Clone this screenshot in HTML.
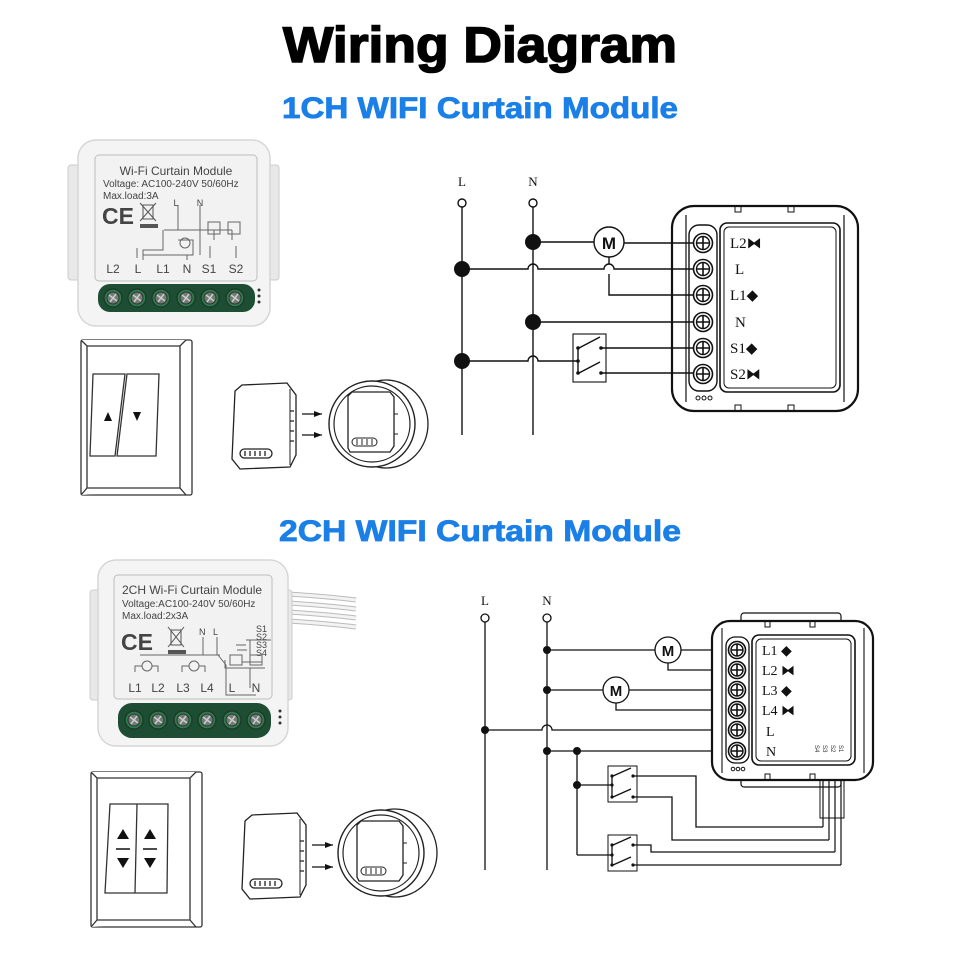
<!DOCTYPE html>
<html><head><meta charset="utf-8"><style>
html,body{margin:0;padding:0;background:#fff}
svg{display:block}
.t{font-family:"Liberation Sans",sans-serif}
.s{font-family:"Liberation Serif",serif}
</style></head><body>
<svg width="960" height="960" viewBox="0 0 960 960" xmlns="http://www.w3.org/2000/svg">
<defs>
<g id="scr"><circle r="9.5" fill="#fff" stroke="#111" stroke-width="1.6"/><circle r="6.5" fill="none" stroke="#111" stroke-width="1.4"/><path d="M-6 0H6M0-6V6" stroke="#111" stroke-width="1.6"/></g>
<g id="scr2"><circle r="8.5" fill="#fff" stroke="#111" stroke-width="1.6"/><circle r="6" fill="none" stroke="#111" stroke-width="1.4"/><path d="M-5.5 0H5.5M0-5.5V5.5" stroke="#111" stroke-width="1.6"/></g>
<g id="gscr"><circle r="9" fill="#2e7d4f" stroke="#1d3b2a" stroke-width="1.5"/><circle r="6" fill="#6f7c74" stroke="#333" stroke-width="1"/><path d="M-4 -3L4 3M-3 4L3 -4" stroke="#ccc" stroke-width="1.5"/></g>
<g id="mini"><path d="M3 6 L10 0 L55 -2 L64 10 L64 70 L58 82 L8 84 L0 74 Z" fill="#fff" stroke="#222" stroke-width="1.3"/><path d="M58 4 L58 80" stroke="#222" stroke-width="1"/><rect x="8" y="64" width="32" height="9" rx="4.5" fill="#fff" stroke="#222" stroke-width="1.3"/><path d="M13 66v5M18 66v5M23 66v5M28 66v5M33 66v5" stroke="#222" stroke-width="1.3"/><path d="M58 26h4M58 36h4M58 46h4M58 56h4" stroke="#222" stroke-width="1.3"/></g>
<g id="round"><ellipse cx="14" cy="0" rx="42" ry="44" fill="#fff" stroke="#222" stroke-width="1.3"/><circle r="43" fill="#fff" stroke="#222" stroke-width="1.4"/><circle r="38" fill="none" stroke="#222" stroke-width="1.2"/><path d="M-24 -28 L-20 -32 L18 -32 L22 -27 L22 22 L18 28 L-22 28 L-24 24 Z" fill="#fff" stroke="#222" stroke-width="1.3"/><rect x="-20" y="14" width="25" height="8" rx="4" fill="#fff" stroke="#222"/><path d="M-15 15v6M-10 15v6M-5 15v6M0 15v6" stroke="#222"/><path d="M22 -10h4M22 10h4" stroke="#222"/></g>
<marker id="ar" markerWidth="8" markerHeight="6" refX="8" refY="3" orient="auto" markerUnits="userSpaceOnUse"><path d="M0 0L8 3L0 6Z" fill="#111"/></marker>
</defs>

<!-- titles -->
<text x="480" y="62" text-anchor="middle" class="t" font-size="50" font-weight="bold" fill="#000" stroke="#000" stroke-width="1.6" textLength="394" lengthAdjust="spacingAndGlyphs">Wiring Diagram</text>
<text x="480" y="118" text-anchor="middle" class="t" font-size="30" font-weight="bold" fill="#1a7fe6" stroke="#1a7fe6" stroke-width="0.8" textLength="396" lengthAdjust="spacingAndGlyphs">1CH WIFI Curtain Module</text>
<text x="480" y="541" text-anchor="middle" class="t" font-size="30" font-weight="bold" fill="#1a7fe6" stroke="#1a7fe6" stroke-width="0.8" textLength="402" lengthAdjust="spacingAndGlyphs">2CH WIFI Curtain Module</text>

<!-- ===== Module 1 photo ===== -->
<rect x="68" y="165" width="14" height="115" rx="3" fill="#e8e8e8" stroke="#ccc"/>
<rect x="265" y="165" width="14" height="115" rx="3" fill="#e8e8e8" stroke="#ccc"/>
<rect x="78" y="140" width="192" height="186" rx="18" fill="#f4f4f4" stroke="#d6d6d6" stroke-width="1.5"/>
<rect x="95" y="155" width="162" height="126" rx="4" fill="#f2f2f2" stroke="#bdbdbd"/>
<text x="176" y="175" text-anchor="middle" class="t" font-size="12" fill="#444">Wi-Fi Curtain Module</text>
<text x="103" y="187" class="t" font-size="10" fill="#444">Voltage: AC100-240V 50/60Hz</text>
<text x="103" y="199" class="t" font-size="10" fill="#444">Max.load:3A</text>
<text x="102" y="224" class="t" font-size="23" font-weight="bold" fill="#444">CE</text>
<path d="M140 203l16 18M156 203l-16 18" stroke="#555"/><rect x="143" y="205" width="10" height="14" fill="none" stroke="#555"/><rect x="140" y="224" width="18" height="4" fill="#555"/>
<g stroke="#666" fill="none" stroke-width="1">
<path d="M178 205v25M200 205v50M164 230h68M232 230v10M214 230v10M163 230v20h-20v10M178 240h15v15h-50v5M137 248v10M187 255v5M210 246v12M236 246v12"/>
<rect x="208" y="222" width="12" height="12"/><rect x="228" y="222" width="12" height="12"/>
<circle cx="185" cy="243" r="5"/>
</g>
<text x="176" y="206" text-anchor="middle" class="t" font-size="9" fill="#444">L</text>
<text x="200" y="206" text-anchor="middle" class="t" font-size="9" fill="#444">N</text>
<g class="t" font-size="12" fill="#444" text-anchor="middle">
<text x="113" y="273">L2</text><text x="138" y="273">L</text><text x="163" y="273">L1</text><text x="187" y="273">N</text><text x="209" y="273">S1</text><text x="236" y="273">S2</text>
</g>
<rect x="98" y="284" width="157" height="28" rx="12" fill="#1d4d32"/>
<use href="#gscr" x="113" y="298"/><use href="#gscr" x="137" y="298"/><use href="#gscr" x="161" y="298"/><use href="#gscr" x="186" y="298"/><use href="#gscr" x="210" y="298"/><use href="#gscr" x="235" y="298"/>
<circle cx="259" cy="290" r="1.5" fill="#333"/><circle cx="259" cy="296" r="1.5" fill="#333"/><circle cx="259" cy="302" r="1.5" fill="#333"/>

<!-- switch 1 -->
<g fill="#fff" stroke="#333" stroke-width="1.3">
<rect x="81" y="340" width="111" height="155" rx="2"/>
<path d="M81 340 L87 346 L180 346 L186 340 M180 346 L180 488 L186 495 M180 488 L87 488 L81 495 M87 346 L87 488"/>
<path d="M93 374 L125 374 L115 456 L90 456 Z"/><path d="M127 374 L159 374 L156 456 L117 456 Z"/>
</g>
<path d="M104 421l4-9 4 9z" fill="#111"/><path d="M133 412l8 0-4 9z" fill="#111"/>
<use href="#mini" x="232" y="385"/>
<path d="M302 414h20" stroke="#111" stroke-width="1.3" marker-end="url(#ar)"/>
<path d="M302 435h20" stroke="#111" stroke-width="1.3" marker-end="url(#ar)"/>
<use href="#round" x="372" y="424"/>

<!-- ===== Wiring 1 ===== -->
<g stroke="#111" stroke-width="1.4" fill="none">
<text x="462" y="186" text-anchor="middle" class="s" font-size="13" fill="#111" stroke="none">L</text>
<text x="533" y="186" text-anchor="middle" class="s" font-size="13" fill="#111" stroke="none">N</text>
<circle cx="462" cy="203" r="4"/><circle cx="533" cy="203" r="4"/>
<path d="M462 207V435M533 207V435"/>
<path d="M533 242H594M624 243H703"/>
<path d="M462 269H528a5 5 0 0 1 10 0H604a5 5 0 0 1 10 0H703"/>
<path d="M609 257V264M609 274V295H703"/>
<path d="M533 322H703"/>
<path d="M462 361H528a5 5 0 0 1 10 0H578"/>
<rect x="573" y="334" width="33" height="48" stroke-width="1.1"/>
<path d="M578 348V373"/><path d="M579 348L600 337M579 373L600 362"/>
<path d="M601 348H703M601 373H703"/>
</g>
<circle cx="578" cy="348" r="1.8" fill="#111"/><circle cx="578" cy="361" r="1.8" fill="#111"/><circle cx="578" cy="373" r="1.8" fill="#111"/><circle cx="601" cy="348" r="1.8" fill="#111"/><circle cx="601" cy="373" r="1.8" fill="#111"/>
<circle cx="533" cy="242" r="8" fill="#111"/><circle cx="462" cy="269" r="8" fill="#111"/><circle cx="533" cy="322" r="8" fill="#111"/><circle cx="462" cy="361" r="8" fill="#111"/>
<circle cx="609" cy="242" r="15" fill="#fff" stroke="#111" stroke-width="1.4"/>
<text x="609" y="249" text-anchor="middle" class="t" font-size="17" font-weight="bold" fill="#111">M</text>
<g stroke="#111" fill="none">
<rect x="672" y="206" width="186" height="205" rx="22" stroke-width="2.2"/>
<path d="M686 215V402M844 215V402" stroke-width="1.2"/>
<rect x="735" y="206" width="6" height="6"/><rect x="788" y="206" width="6" height="6"/><rect x="735" y="405" width="6" height="6"/><rect x="788" y="405" width="6" height="6"/>
<rect x="720" y="223" width="120" height="169" rx="7" stroke-width="1.6"/>
<rect x="724" y="227" width="112" height="161" rx="5" stroke-width="1"/>
<rect x="689" y="225" width="28" height="166" rx="10" stroke-width="1.4"/>
</g>
<use href="#scr" x="703" y="243"/><use href="#scr" x="703" y="269"/><use href="#scr" x="703" y="295"/><use href="#scr" x="703" y="322"/><use href="#scr" x="703" y="348"/><use href="#scr" x="703" y="374"/>
<circle cx="698" cy="398" r="2" fill="none" stroke="#111"/><circle cx="704" cy="398" r="2" fill="none" stroke="#111"/><circle cx="710" cy="398" r="2" fill="none" stroke="#111"/>
<g class="s" font-size="15" fill="#111">
<text x="730" y="248">L2⧓</text><text x="735" y="274">L</text><text x="730" y="300">L1◆</text><text x="735" y="327">N</text><text x="730" y="353">S1◆</text><text x="730" y="379">S2⧓</text>
</g>

<!-- ===== Module 2 photo ===== -->
<path d="M288 594 C320 596 340 598 356 600M288 603 C320 605 340 607 356 609M288 612 C320 614 340 616 356 618M288 621 C320 623 340 625 356 627" stroke="#bbb" stroke-width="5" fill="none"/>
<path d="M288 594 C320 596 340 598 356 600M288 603 C320 605 340 607 356 609M288 612 C320 614 340 616 356 618M288 621 C320 623 340 625 356 627" stroke="#f3f3f3" stroke-width="3" fill="none"/>
<rect x="90" y="590" width="14" height="110" rx="3" fill="#e8e8e8" stroke="#ccc"/>
<rect x="280" y="590" width="12" height="110" rx="3" fill="#e8e8e8" stroke="#ccc"/>
<rect x="98" y="560" width="190" height="186" rx="18" fill="#f4f4f4" stroke="#d6d6d6" stroke-width="1.5"/>
<rect x="114" y="575" width="158" height="124" rx="4" fill="#f2f2f2" stroke="#bdbdbd"/>
<text x="122" y="594" class="t" font-size="12" fill="#444">2CH Wi-Fi Curtain Module</text>
<text x="122" y="607" class="t" font-size="10" fill="#444">Voltage:AC100-240V 50/60Hz</text>
<text x="122" y="619" class="t" font-size="10" fill="#444">Max.load:2x3A</text>
<text x="121" y="650" class="t" font-size="23" font-weight="bold" fill="#444">CE</text>
<path d="M168 627l16 20M184 627l-16 20" stroke="#555"/><rect x="171" y="630" width="10" height="15" fill="none" stroke="#555"/><rect x="168" y="650" width="18" height="4" fill="#555"/>
<g stroke="#666" fill="none">
<path d="M140 655H220M203 637v18M217 637v18M218 655l8 10v30h30M236 645h10M246 640h25M250 640v20M237 650h10M242 662h20M225 660v8h40M250 668v20"/>
<rect x="230" y="655" width="12" height="10"/><rect x="250" y="655" width="12" height="10"/>
<circle cx="147" cy="666" r="5"/><circle cx="194" cy="666" r="5"/>
<path d="M135 672v-6h7M152 666h6v6M182 672v-6h7M199 666h6v6"/>
</g>
<g class="t" font-size="9" fill="#444"><text x="199" y="635">N</text><text x="213" y="635">L</text><text x="256" y="632">S1</text><text x="256" y="640">S2</text><text x="256" y="648">S3</text><text x="256" y="656">S4</text></g>
<g class="t" font-size="12" fill="#444" text-anchor="middle">
<text x="135" y="692">L1</text><text x="158" y="692">L2</text><text x="183" y="692">L3</text><text x="207" y="692">L4</text><text x="232" y="692">L</text><text x="256" y="692">N</text>
</g>
<rect x="118" y="703" width="153" height="35" rx="14" fill="#1d4d32"/>
<use href="#gscr" x="134" y="720"/><use href="#gscr" x="158" y="720"/><use href="#gscr" x="183" y="720"/><use href="#gscr" x="207" y="720"/><use href="#gscr" x="232" y="720"/><use href="#gscr" x="256" y="720"/>
<circle cx="280" cy="711" r="1.5" fill="#333"/><circle cx="280" cy="717" r="1.5" fill="#333"/><circle cx="280" cy="723" r="1.5" fill="#333"/>

<!-- switch 2 -->
<g fill="#fff" stroke="#333" stroke-width="1.3">
<rect x="91" y="772" width="111" height="155" rx="2"/>
<path d="M91 772 L97 778 L190 778 L196 772 M190 778 L190 920 L196 927 M190 920 L97 920 L91 927 M97 778 L97 920"/>
<path d="M110 804 L168 804 L167 893 L105 893 Z"/><path d="M137 804 L135 893"/>
</g>
<g fill="#111"><path d="M117 839l6-10 6 10z"/><path d="M144 839l6-10 6 10z"/><path d="M117 858h12l-6 10z"/><path d="M144 858h12l-6 10z"/></g>
<path d="M116 849h14M143 849h14" stroke="#111" stroke-width="1.4"/>
<use href="#mini" x="242" y="815"/>
<path d="M312 845h21" stroke="#111" stroke-width="1.3" marker-end="url(#ar)"/>
<path d="M312 867h21" stroke="#111" stroke-width="1.3" marker-end="url(#ar)"/>
<use href="#round" x="381" y="853"/>

<!-- ===== Wiring 2 ===== -->
<g stroke="#111" stroke-width="1.3" fill="none">
<text x="485" y="605" text-anchor="middle" class="s" font-size="13" fill="#111" stroke="none">L</text>
<text x="547" y="605" text-anchor="middle" class="s" font-size="13" fill="#111" stroke="none">N</text>
<circle cx="485" cy="618" r="4"/><circle cx="547" cy="618" r="4"/>
<path d="M485 622V870M547 622V870"/>
<path d="M547 650H655M681 650H737M668 663V670H737"/>
<path d="M547 690H603M629 690H737M616 703V710H737"/>
<path d="M485 730H542a5 5 0 0 1 10 0H737"/>
<path d="M547 751H737M577 751V855M577 785H612M577 855H612"/>
<rect x="608" y="766" width="29" height="36" stroke-width="1"/>
<rect x="608" y="835" width="29" height="36" stroke-width="1"/>
<path d="M612 776V797M613 776L631 768M613 797L631 789"/>
<path d="M612 845V865M613 845L631 837M613 865L631 857"/>
<path d="M633 776H696V827H823M633 797H672V840H829M633 845H651V852H835M633 865H841"/>
<path d="M823 780V827M829 780V840M835 780V852M841 780V865" stroke-width="1.2"/>
</g>
<rect x="820" y="780" width="24" height="38" fill="none" stroke="#111" stroke-width="1"/>
<g fill="#111"><circle cx="547" cy="650" r="4"/><circle cx="547" cy="690" r="4"/><circle cx="485" cy="730" r="4"/><circle cx="547" cy="751" r="4"/><circle cx="577" cy="751" r="4"/><circle cx="577" cy="785" r="4"/>
<circle cx="612" cy="776" r="1.6"/><circle cx="612" cy="785" r="1.6"/><circle cx="612" cy="797" r="1.6"/><circle cx="633" cy="776" r="1.6"/><circle cx="633" cy="797" r="1.6"/>
<circle cx="612" cy="845" r="1.6"/><circle cx="612" cy="855" r="1.6"/><circle cx="612" cy="865" r="1.6"/><circle cx="633" cy="845" r="1.6"/><circle cx="633" cy="865" r="1.6"/></g>
<circle cx="668" cy="650" r="13" fill="#fff" stroke="#111" stroke-width="1.3"/>
<text x="668" y="656" text-anchor="middle" class="t" font-size="15" font-weight="bold" fill="#111">M</text>
<circle cx="616" cy="690" r="13" fill="#fff" stroke="#111" stroke-width="1.3"/>
<text x="616" y="696" text-anchor="middle" class="t" font-size="15" font-weight="bold" fill="#111">M</text>
<g stroke="#111" fill="none">
<rect x="741" y="613" width="100" height="10" rx="3" stroke-width="1.2"/>
<rect x="741" y="777" width="100" height="10" rx="3" stroke-width="1.2"/>
<rect x="712" y="621" width="161" height="159" rx="18" fill="#fff" stroke-width="2.2"/>
<path d="M722 628V773M864 628V773" stroke-width="1.1"/>
<rect x="765" y="621" width="5" height="6"/><rect x="810" y="621" width="5" height="6"/><rect x="765" y="774" width="5" height="6"/><rect x="810" y="774" width="5" height="6"/>
<rect x="752" y="635" width="103" height="130" rx="7" stroke-width="1.6"/>
<rect x="756" y="639" width="95" height="122" rx="5" stroke-width="1"/>
<rect x="726" y="637" width="23" height="126" rx="9" stroke-width="1.3"/>
</g>
<use href="#scr2" x="737" y="650"/><use href="#scr2" x="737" y="670"/><use href="#scr2" x="737" y="690"/><use href="#scr2" x="737" y="710"/><use href="#scr2" x="737" y="730"/><use href="#scr2" x="737" y="751"/>
<circle cx="733" cy="769" r="1.8" fill="none" stroke="#111"/><circle cx="738" cy="769" r="1.8" fill="none" stroke="#111"/><circle cx="743" cy="769" r="1.8" fill="none" stroke="#111"/>
<g class="s" font-size="14" fill="#111">
<text x="762" y="655">L1 ◆</text><text x="762" y="675">L2 ⧓</text><text x="762" y="695">L3 ◆</text><text x="762" y="715">L4 ⧓</text><text x="766" y="736">L</text><text x="766" y="756">N</text>
</g>
<g class="t" font-size="6" fill="#333" transform="translate(815 745) rotate(90)"><text x="0" y="0">S4</text><text x="0" y="-8">S3</text><text x="0" y="-16">S2</text><text x="0" y="-24">S1</text></g>
</svg>
</body></html>
